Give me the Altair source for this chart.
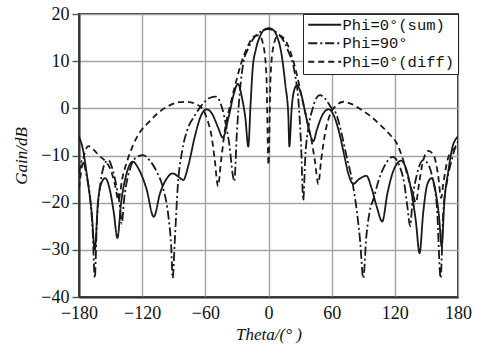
import altair as alt
import pandas as pd

# ---- data ----
series_names = ["Phi=0°(sum)", "Phi=90°", "Phi=0°(diff)"]

sum_theta = [-180, -176, -172, -168, -165, -162, -159, -155, -151, -147, -143.5, -140, -135, -129,
             -123, -116, -109, -103, -97, -91, -85, -81, -76, -70, -64, -59, -54, -48, -43.5,
             -38, -33, -29, -25, -22, -19.2, -17, -15, -12, -8, -4, 0, 4, 8, 12.5, 16, 18.8, 19.8,
             22, 24, 27, 31, 35, 39, 42.5, 46, 51, 57, 62, 67, 72, 76, 80.6, 86, 93, 98, 103,
             108, 113, 119, 126, 131, 136, 140, 143.5, 147, 151, 155, 159, 162, 164.5, 167, 171,
             175, 178, 180]
sum_gain = [-6, -9, -15, -22, -30, -20, -16, -14.8, -17, -22, -27.5, -20, -14, -11.3,
            -13, -17, -23, -18, -15, -13.8, -14.6, -15.2, -12, -6, -1.5, -0.2, -1, -4, -6.2,
            -2, 3, 5.2, 2, -2, -8.1, 1, 8.5, 12.5, 15.3, 16.7, 17, 16.7, 15.3, 11.3, 5, -1.4, -8.1,
            0, 3.5, 4.9, 3, -1, -5, -7, -4.5, -1.5, -0.2, -1.5, -5, -10, -14, -16, -15, -14.3, -17, -21,
            -24, -18, -13, -11.1, -13, -18, -24, -30.7, -22, -16, -14.8, -18, -23, -29.3, -20, -13,
            -8, -6.5, -6]

az_theta = [-180, -177, -173, -169, -167, -165, -163, -159, -155, -152, -148, -144, -141, -139.5,
            -137, -131, -125, -119, -113, -106, -100, -95, -92.5, -91, -89, -86, -82, -77, -70,
            -63, -56, -50, -44, -40, -37, -34, -32.5, -30, -27, -24, -19, -13, -7, 0, 7, 13, 19,
            25, 29, 31, 33, 35, 38, 42, 45, 49, 54, 60, 64, 68, 74, 80, 84, 87, 90, 93, 96, 100,
            105, 110, 118, 124, 129, 132, 134.5, 137, 141, 147, 152, 156, 160, 163.5, 166, 170,
            174, 177, 180]
az_gain = [-14, -11, -14, -20, -26, -36, -24, -15, -11.5, -11, -13, -17, -21, -24.5,
           -19, -12.5, -10.3, -9.9, -11, -13.5, -17, -23, -29, -36, -28, -16, -9, -4.5, -1.5,
           0.8, 2.2, 2.5, 0, -4, -8, -14, -15.5, -5, 4, 9.5, 12.8, 15.2, 16.3, 16.8, 16.2, 14.8, 12,
           7.4, 0, -8, -19.5, -10, -4, 0, 2, 2.8, 2, 0, -1, -4, -10, -16, -22, -28, -36, -27, -22, -19,
           -15, -12.3, -10.3, -12, -16, -21, -25, -19, -14, -11, -12, -15, -21, -36, -22, -15,
           -11, -8.5, -7]

diff_theta = [-180, -177, -174, -171, -166, -161, -155, -150, -146, -142.5, -139, -134, -129,
              -122, -114, -105, -95, -85, -78, -70, -63, -58, -54, -51, -48, -45, -41, -36, -31,
              -26, -20, -14, -9, -5, -2, 0, 2, 5, 9, 14, 20, 26, 31, 36, 41, 44, 47.3, 50, 54, 59,
              64, 71, 78, 86, 96, 106, 115, 122, 128, 133, 137, 140, 143, 147, 152, 157, 161, 164,
              166, 170, 174, 177, 180]
diff_gain = [-17, -12, -9, -8, -8.8, -10, -11.2, -13, -16, -19.5, -15, -11, -8,
             -5, -3, -1, 0.5, 1.3, 1.4, 1, 0, -2.5, -6, -11, -16.5, -11, -4, 1, 5.5,
             9.5, 13, 15.2, 15.5, 13.5, 7, -12, 7, 13.5, 15.5, 15, 12.5, 8, 3, -2, -7, -11, -16, -11, -5, -1,
             0.5, 1.4, 1, 0, -1.5, -3.5, -5.5, -7.5, -11, -15, -18, -20, -16, -11, -9, -10, -14, -19,
             -16, -11, -9, -8.5, -8]

x_ticks = [-180, -120, -60, 0, 60, 120, 180]
y_ticks = [-40, -30, -20, -10, 0, 10, 20]

# ---- table ----
frames = []
for name, th, g in [(series_names[0], sum_theta, sum_gain),
                    (series_names[1], az_theta, az_gain),
                    (series_names[2], diff_theta, diff_gain)]:
    frames.append(pd.DataFrame({"theta": th, "gain": g, "series": name}))
df = pd.concat(frames, ignore_index=True)

SERIF = "Liberation Serif"

chart = alt.Chart(df).mark_line(
    interpolate="monotone", color="#1a1a1a", strokeWidth=1.8, clip=True
).encode(
    x=alt.X("theta:Q",
            scale=alt.Scale(domain=[-180, 180], nice=False, zero=False),
            axis=alt.Axis(values=x_ticks, title="Theta/(° )", tickSize=0, labelPadding=7,
                          labelFlush=False, labelOverlap=False,
                          labelFont=SERIF, labelFontSize=18, titleFont=SERIF,
                          titleFontSize=17, titleFontStyle="italic", titlePadding=4)),
    y=alt.Y("gain:Q",
            scale=alt.Scale(domain=[-40, 20], nice=False, zero=False),
            axis=alt.Axis(values=y_ticks, title="Gain/dB", tickSize=7, labelPadding=3,
                          labelFlush=False, labelOverlap=False,
                          labelFont=SERIF, labelFontSize=18, titleFont=SERIF,
                          titleFontSize=17, titleFontStyle="italic", titlePadding=10)),
    strokeDash=alt.StrokeDash(
        "series:N",
        scale=alt.Scale(domain=series_names, range=[[1, 0], [9, 3, 2, 3], [6, 4]]),
        legend=alt.Legend(
            orient="top-right", offset=0, title=None,
            labelFont="Liberation Mono", labelFontSize=15.5, labelColor="#111",
            symbolType="M-3,0H3", symbolSize=121, symbolStrokeWidth=1.8,
            symbolStrokeColor="#1a1a1a", symbolOffset=11, labelOffset=10,
            strokeColor="#222", fillColor="white", padding=3, rowPadding=1.5,
        ),
    ),
    order=alt.Order("theta:Q"),
).properties(
    width=379, height=283,
    autosize=alt.AutoSizeParams(type="none"),
    padding={"left": 79, "top": 14, "right": 19, "bottom": 52},
).configure_view(
    stroke="#333", strokeWidth=2
).configure_axis(
    gridColor="#a3a3a3", gridWidth=1.4, gridOpacity=1,
    domainColor="#333", domainWidth=2,
    tickColor="#555", tickWidth=1.4,
    labelColor="#111", titleColor="#111", titleFontWeight="normal",
)

chart.save("out.html", embed_options={"renderer": "svg", "actions": False})
